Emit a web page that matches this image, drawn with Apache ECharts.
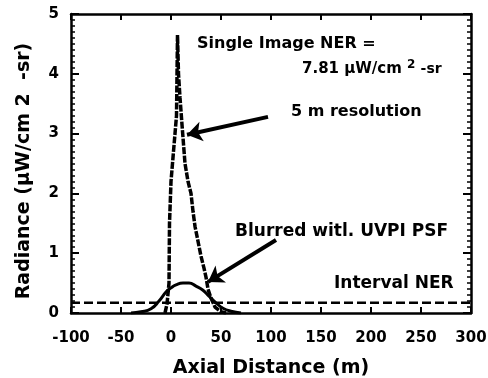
<!DOCTYPE html>
<html>
<head>
<meta charset="utf-8">
<script src="https://cdn.jsdelivr.net/npm/echarts@6/dist/echarts.min.js"></script>
<style>html,body{margin:0;padding:0;background:#fff}#c{width:488px;height:378px}</style>
</head>
<body>
<div id="c"></div>
<script>
// ---- data ----
const xTickLabels = ['-100','-50','0','50','100','150','200','250','300'];
const yTickLabels = ['0','1','2','3','4','5'];
const res5mX = [-6, -4, -2, -1.5, 0, 2, 4, 5.5, 6.5, 7.5, 9, 11, 14, 17, 20, 22, 24, 27, 30, 33, 35, 37, 40, 44, 50, 55];
const res5mY = [0, 0.15, 0.5, 1.5, 2.2, 2.6, 3.0, 3.3, 4.65, 4.0, 3.6, 3.15, 2.5, 2.2, 2.0, 1.7, 1.45, 1.2, 0.95, 0.75, 0.6, 0.4, 0.25, 0.1, 0.02, 0];
const blurX = [-40, -30, -20, -12, -5, 0, 5, 12, 18, 25, 32, 38, 45, 52, 60, 70];
const blurY = [0, 0.02, 0.07, 0.2, 0.35, 0.42, 0.47, 0.5, 0.5, 0.45, 0.38, 0.28, 0.17, 0.08, 0.03, 0];
const nerX = [-100, 300];
const nerY = [0.17, 0.17];
const arrowRes = [[97, 3.28], [16, 2.98]];
const arrowBlur = [[105, 1.22], [37, 0.52]];

const zip = (a, b) => a.map((v, i) => [v, b[i]]);
const F = '"DejaVu Sans", "Liberation Sans", sans-serif';

const chart = echarts.init(document.getElementById('c'), null, {renderer: 'canvas'});
function xBase() {
  return {
    type: 'value', min: -100, max: 300, interval: 50,
    axisLine: {show: true, onZero: false, lineStyle: {color: '#000', width: 2.5}},
    axisTick: {show: true, inside: true, length: 6, lineStyle: {color: '#000', width: 2}},
    splitLine: {show: false}
  };
}
function yBase() {
  return {
    type: 'value', min: 0, max: 5, interval: 1,
    axisLine: {show: true, onZero: false, lineStyle: {color: '#000', width: 2.5}},
    axisTick: {show: true, inside: true, length: 8, lineStyle: {color: '#000', width: 2}},
    minorTick: {show: true, splitNumber: 10, length: 4, lineStyle: {color: '#000', width: 1.5}},
    splitLine: {show: false}, minorSplitLine: {show: false}
  };
}
chart.setOption({
  animation: false,
  backgroundColor: '#fff',
  grid: {left: 71, right: 17, top: 14, bottom: 65, containLabel: false, outerBoundsMode: 'none'},
  xAxis: [
    Object.assign(xBase(), {
      position: 'bottom',
      axisLabel: {color: '#000', fontFamily: F, fontWeight: 'bold', fontSize: 15, margin: 18,
        formatter: v => xTickLabels[Math.round((v + 100) / 50)]},
      name: 'Axial Distance (m)', nameLocation: 'middle', nameGap: 46,
      nameTextStyle: {color: '#000', fontFamily: F, fontWeight: 'bold', fontSize: 19}
    }),
    Object.assign(xBase(), {position: 'top', axisLabel: {show: false}})
  ],
  yAxis: [
    Object.assign(yBase(), {
      position: 'left',
      axisLabel: {color: '#000', fontFamily: F, fontWeight: 'bold', fontSize: 15, margin: 12,
        formatter: v => yTickLabels[Math.round(v)]}
    }),
    Object.assign(yBase(), {position: 'right', axisLabel: {show: false}})
  ],
  series: [
    {type: 'line', name: '5 m resolution', data: zip(res5mX, res5mY), showSymbol: false,
      lineStyle: {color: '#000', width: 3.5, type: [7, 1.5]}},
    {type: 'line', name: 'Blurred', data: zip(blurX, blurY), smooth: true, showSymbol: false,
      lineStyle: {color: '#000', width: 3}},
    {type: 'line', name: 'Interval NER', data: zip(nerX, nerY), showSymbol: false,
      lineStyle: {color: '#000', width: 2.5, type: [9, 4]}},
    {type: 'line', name: 'frame', xAxisIndex: 1, yAxisIndex: 1, data: [], showSymbol: false},
    {type: 'lines', coordinateSystem: 'cartesian2d',
      symbol: ['none', 'arrow'], symbolSize: [0, 15],
      lineStyle: {color: '#000', width: 4, opacity: 1},
      data: [{coords: arrowRes}, {coords: arrowBlur}]}
  ],
  graphic: [
    {type: 'text', x: 24, y: 171, rotation: Math.PI / 2, style: {
      text: 'Radiance (\u00b5W/cm 2  -sr)', fill: '#000', font: 'bold 19px ' + F,
      align: 'center', verticalAlign: 'middle'}},
    {type: 'text', left: 197, top: 36, style: {text: 'Single Image NER =', fill: '#000', font: 'bold 16px ' + F}},
    {type: 'text', left: 302, top: 59, style: {
      text: '7.81 \u00b5W/cm {s|2} {r|-sr}', fill: '#000', font: 'bold 15px ' + F,
      rich: {
        s: {fontSize: 12, fontWeight: 'bold', fontFamily: F, verticalAlign: 'top', padding: [0, 0, 8, 0]},
        r: {fontSize: 14, fontWeight: 'bold', fontFamily: F}
      }}},
    {type: 'text', left: 291, top: 104, style: {text: '5 m resolution', fill: '#000', font: 'bold 16px ' + F}},
    {type: 'text', left: 235, top: 223, style: {text: 'Blurred witl. UVPI PSF', fill: '#000', font: 'bold 17px ' + F}},
    {type: 'text', left: 334, top: 275, style: {text: 'Interval NER', fill: '#000', font: 'bold 17px ' + F}}
  ]
});
</script>
</body>
</html>
